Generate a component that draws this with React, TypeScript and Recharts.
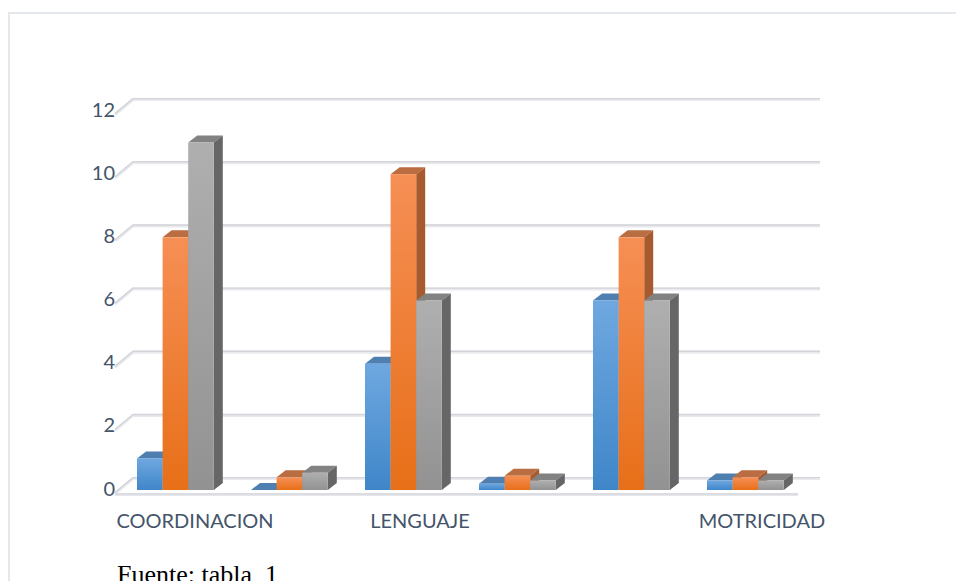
import React from "react";
import { BarChart, Bar, XAxis, YAxis, CartesianGrid } from "recharts";

const categories = ["COORDINACION", "", "LENGUAJE", "", "", "MOTRICIDAD"];
const blueValues = [1, 0, 4, 0.2, 6, 0.3];
const orangeValues = [8, 0.4, 10, 0.45, 8, 0.4];
const greyValues = [11, 0.55, 6, 0.3, 6, 0.3];
const yTicks = [0, 2, 4, 6, 8, 10, 12];

const chartData = categories.map((name, i) => ({
  id: i,
  name,
  blue: blueValues[i],
  orange: orangeValues[i],
  grey: greyValues[i],
}));

const TEXT_COLOR = "#44546A";
const FONT = "Lato, 'Open Sans', sans-serif";
const DEPTH_X = 9;
const DEPTH_Y = 7;

// front face + top + side, to fake the 3D column look
const make3dBar = (gradientId: string, topColor: string, sideColor: string) => (props: any) => {
  const { x, y, width, height } = props;
  const r = x + width;
  const b = y + height;
  return (
    <g>
      <polygon
        points={`${x},${y} ${x + DEPTH_X},${y - DEPTH_Y} ${r + DEPTH_X},${y - DEPTH_Y} ${r},${y}`}
        fill={topColor}
      />
      <polygon
        points={`${r},${y} ${r + DEPTH_X},${y - DEPTH_Y} ${r + DEPTH_X},${b - DEPTH_Y} ${r},${b}`}
        fill={sideColor}
      />
      {height > 0 && <rect x={x} y={y} width={width} height={height} fill={`url(#${gradientId})`} />}
    </g>
  );
};

const GridLine = (props: any) => {
  const { x1, x2, y1 } = props;
  const isFloor = Math.abs(y1 - 490) < 1;
  const path = `M${x1 - 3},${y1 + 3} L${x1 + 15},${y1 - 12} L${x2 + 18},${y1 - 12}`;
  return (
    <g fill="none" strokeLinejoin="round">
      <path d={path} stroke="#e9eaed" strokeWidth={3} transform="translate(0,0.6)" />
      <path d={path} stroke="#d2d4d9" strokeWidth={1.4} transform="translate(0,-0.4)" />
      {isFloor && (
        <g>
          <line x1={x1 - 3} x2={x2 - 4} y1={y1 + 4.5} y2={y1 + 4.5} stroke="#e6e7eb" strokeWidth={3} />
          <line x1={x1 - 3} x2={x2 - 4} y1={y1 + 4} y2={y1 + 4} stroke="#d2d4d9" strokeWidth={1.2} />
        </g>
      )}
    </g>
  );
};

const YTick = ({ y, payload }: any) => (
  <text x={115} y={y - 2.5} textAnchor="end" dominantBaseline="central" fill={TEXT_COLOR} fontSize={20} fontFamily={FONT}>
    {payload.value}
  </text>
);

const XTick = ({ x, y, payload }: any) => (
  <text
    x={x + (payload.index === 0 ? 20 : 17)}
    y={y + 21.5}
    textAnchor="middle"
    dominantBaseline="central"
    fill={TEXT_COLOR}
    fontSize={20}
    fontFamily={FONT}
  >
    {categories[payload.index ?? 0] ?? payload.value}
  </text>
);

const App = () => {
  return (
    <div style={{ position: "absolute", left: 0, top: 0, width: 956, height: 581, overflow: "hidden", background: "#fff" }}>
      {/* page frame: only the top and left edges are in view */}
      <div
        style={{
          position: "absolute",
          left: 8,
          top: 12,
          width: 960,
          height: 600,
          borderTop: "2px solid #e4e7ec",
          borderLeft: "2px solid #e4e7ec",
          boxSizing: "border-box",
        }}
      />
      <div style={{ position: "absolute", left: 0, top: 0 }}>
        <BarChart
          width={956}
          height={581}
          data={chartData}
          margin={{ top: 111, right: 154, bottom: 0, left: 0 }}
          barSize={25.6}
          barGap={0}
        >
          <defs>
            <linearGradient id="blueFront" x1="0" y1="0" x2="0" y2="1">
              <stop offset="0%" stopColor="#6fa8e0" />
              <stop offset="100%" stopColor="#3f86c9" />
            </linearGradient>
            <linearGradient id="orangeFront" x1="0" y1="0" x2="0" y2="1">
              <stop offset="0%" stopColor="#f68f55" />
              <stop offset="100%" stopColor="#e76f18" />
            </linearGradient>
            <linearGradient id="greyFront" x1="0" y1="0" x2="0" y2="1">
              <stop offset="0%" stopColor="#afafaf" />
              <stop offset="100%" stopColor="#929292" />
            </linearGradient>
          </defs>
          <CartesianGrid vertical={false} horizontal={GridLine} />
          <XAxis
            dataKey="id"
            height={91}
            axisLine={false}
            tickLine={false}
            interval={0}
            tick={XTick}
            tickFormatter={(i: number) => categories[i]}
          />
          <YAxis
            width={118}
            domain={[0, 12]}
            ticks={yTicks}
            axisLine={false}
            tickLine={false}
            tick={YTick}
          />
          <Bar dataKey="blue" isAnimationActive={false} shape={make3dBar("blueFront", "#4f7fb0", "#3a6a9c")} />
          <Bar dataKey="orange" isAnimationActive={false} shape={make3dBar("orangeFront", "#b96d40", "#a65a2e")} />
          <Bar dataKey="grey" isAnimationActive={false} shape={make3dBar("greyFront", "#828282", "#666666")} />
        </BarChart>
      </div>
      <div
        style={{
          position: "absolute",
          left: 117,
          top: 560,
          fontFamily: "'Liberation Serif', serif",
          fontSize: 26,
          color: "#000",
          whiteSpace: "pre",
        }}
      >
        Fuente: tabla  1
      </div>
    </div>
  );
};

export default App;
